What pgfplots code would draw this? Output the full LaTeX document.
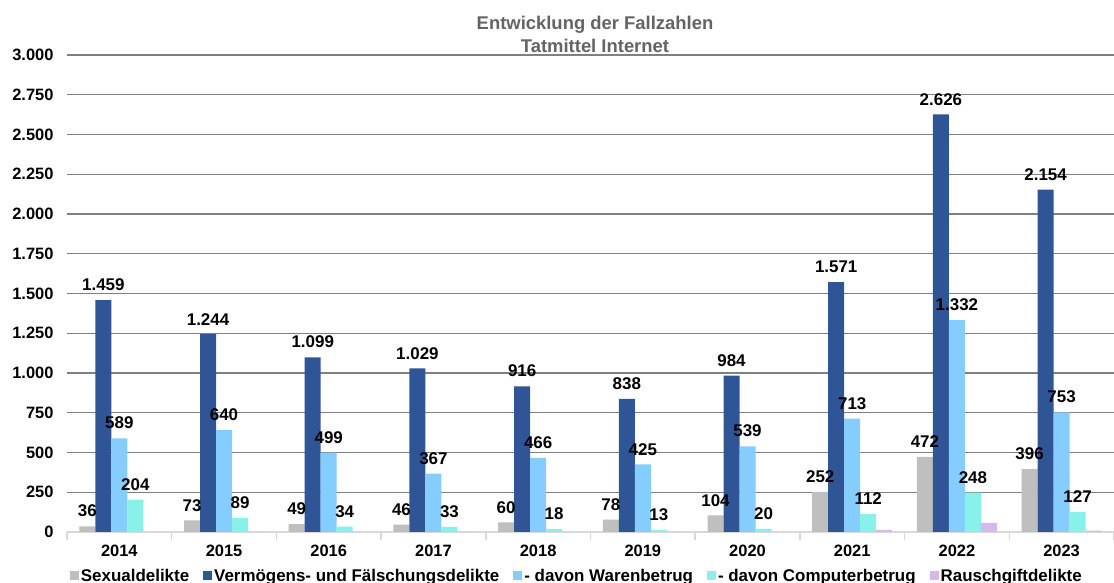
\documentclass[border=0pt]{standalone}
\usepackage{fontspec}
\setmainfont{Liberation Sans}
\usepackage{pgfplots}
\pgfplotsset{compat=1.18}

\definecolor{cSex}{RGB}{191,191,191}
\definecolor{cVerm}{RGB}{47,85,151}
\definecolor{cWare}{RGB}{133,204,255}
\definecolor{cComp}{RGB}{136,242,234}
\definecolor{cRausch}{RGB}{213,185,236}
\definecolor{gridgray}{RGB}{128,128,128}
\definecolor{basegray}{RGB}{217,217,217}
\definecolor{titlegray}{RGB}{100,100,100}

\begin{document}
\begin{tikzpicture}
\useasboundingbox (0,0) rectangle (1114bp,583bp);
\begin{axis}[
    at={(67bp,51bp)}, anchor=south west,
    width=1047bp, height=477bp, scale only axis,
    ybar=0pt, bar width=16bp,
    xmin=-0.5, xmax=9.5, ymin=0, ymax=3000,
    xtick={0,...,9},
    xticklabels={2014,2015,2016,2017,2018,2019,2020,2021,2022,2023},
    minor xtick={-0.5,0.5,...,9.5},
    ytick={0,250,...,3000},
    ymajorgrids, grid style={gridgray, line width=1.4bp},
    axis lines*=left,
    y axis line style={draw=none},
    x axis line style={basegray, line width=2bp},
    tick align=outside,
    major tick length=0bp, minor tick length=8bp,
    major x tick style={draw=none},
    minor x tick style={basegray, line width=1.5bp},
    ytick style={draw=none},
    tick label style={font=\fontsize{16.5}{19}\selectfont\bfseries, black},
    yticklabel style={xshift=-10bp},
    xticklabel style={yshift=-10bp},
    /pgf/number format/1000 sep={.},
    /pgf/number format/assume math mode=true,
    every node near coord/.append style={font=\fontsize{17}{20}\selectfont\bfseries, black, inner sep=1bp, yshift=8bp},
    legend columns=5,
    legend style={at={(0.487,-0.092)}, anchor=center, draw=none, fill=none,
        font=\fontsize{17}{20}\selectfont\bfseries,
        /tikz/every even column/.append style={column sep=12bp}},
    legend image code/.code={\fill[#1] (0bp,-4.5bp) rectangle (9bp,4.5bp);},
]
\addplot[fill=cSex, draw=none, nodes near coords] coordinates {
    (0,36) (1,73) (2,49) (3,46) (4,60) (5,78) (6,104) (7,252) (8,472) (9,396)};
\addlegendentry{Sexualdelikte}
\addplot[fill=cVerm, draw=none, nodes near coords] coordinates {
    (0,1459) (1,1244) (2,1099) (3,1029) (4,916) (5,838) (6,984) (7,1571) (8,2626) (9,2154)};
\addlegendentry{Vermögens- und Fälschungsdelikte}
\addplot[fill=cWare, draw=none, nodes near coords] coordinates {
    (0,589) (1,640) (2,499) (3,367) (4,466) (5,425) (6,539) (7,713) (8,1332) (9,753)};
\addlegendentry{- davon Warenbetrug}
\addplot[fill=cComp, draw=none, nodes near coords] coordinates {
    (0,204) (1,89) (2,34) (3,33) (4,18) (5,13) (6,20) (7,112) (8,248) (9,127)};
\addlegendentry{- davon Computerbetrug}
\addplot[fill=cRausch, draw=none] coordinates {
    (0,0) (1,0) (2,0) (3,0) (4,0) (5,0) (6,0) (7,12) (8,58) (9,9)};
\addlegendentry{Rauschgiftdelikte}
\end{axis}
\node[fill=white, inner xsep=7bp, inner ysep=2bp, align=center, text=titlegray,
    font=\fontsize{18.5}{23}\selectfont\bfseries] at (595bp,549bp)
    {Entwicklung der Fallzahlen\\Tatmittel Internet};
\end{tikzpicture}
\end{document}
